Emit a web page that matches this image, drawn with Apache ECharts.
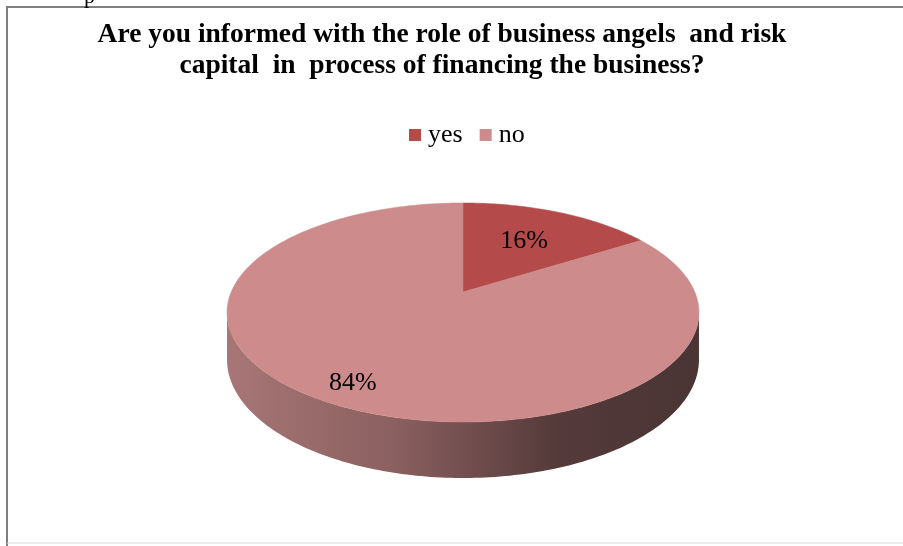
<!DOCTYPE html>
<html>
<head>
<meta charset="utf-8">
<script src="https://cdn.jsdelivr.net/npm/echarts@6/dist/echarts.min.js"></script>
<style>
html,body{margin:0;padding:0;background:#fff;}
#c{width:903px;height:546px;}
</style>
</head>
<body>
<div id="c"></div>
<script>
// ---- data ----
const titleLines = ['Are you informed with the role of business angels  and risk', 'capital  in  process of financing the business?'];
const categories = ['yes', 'no'];
const values = [16, 84];

// ---- style ----
const sliceColors = ['#b54a4b', '#cd8b8b'];
const labelRadius = [0.6, 0.85];

// 3D pie projection (perspective of a flat disc)
const CX = 463, CY = 292, A = 231.8, B = 105.7, K = 0.187, DEPTH = 45.5;
function proj(theta, r, drop) {
  const u = r * Math.sin(theta), v = r * Math.cos(theta);
  const w = 1 + K * v;
  return [CX + A * u / w, CY - B * v / w + (drop || 0) / w];
}
const total = values.reduce((a, b) => a + b, 0);
function arcPoints(t0, t1, drop) {
  const pts = [];
  const n = Math.max(2, Math.ceil((t1 - t0) / (Math.PI / 180)));
  for (let i = 0; i <= n; i++) pts.push(proj(t0 + (t1 - t0) * i / n, 1, drop));
  return pts;
}
const wallStart = Math.acos(-K), wallEnd = 2 * Math.PI - Math.acos(-K);

function makeRender(idx) {
  return function (params, api) {
    const v = api.value(0);
    let before = 0;
    for (let i = 0; i < idx; i++) before += values[i];
    const t0 = before / total * 2 * Math.PI;
    const t1 = (before + v) / total * 2 * Math.PI;
    const children = [];
    const a0 = Math.max(t0, wallStart), a1 = Math.min(t1, wallEnd);
    if (a1 > a0) {
      const top = arcPoints(a0, a1, 0);
      const bot = arcPoints(a0, a1, DEPTH).reverse();
      children.push({
        type: 'polygon',
        shape: { points: top.concat(bot) },
        style: {
          fill: {
            type: 'linear', x: 0, y: 0, x2: 1, y2: 0,
            colorStops: [
              { offset: 0, color: '#a87676' },
              { offset: 0.35, color: '#8b6060' },
              { offset: 0.7, color: '#553a3a' },
              { offset: 1, color: '#4a3434' }
            ]
          },
          stroke: null
        }
      });
    }
    const face = [proj(0, 0, 0)].concat(arcPoints(t0, t1, 0));
    children.push({
      type: 'polygon',
      shape: { points: face },
      style: { fill: sliceColors[idx], stroke: sliceColors[idx], lineWidth: 0.5 }
    });
    const mid = (t0 + t1) / 2;
    const lp = proj(mid, labelRadius[idx], 0);
    children.push({
      type: 'text',
      z2: 10,
      style: {
        text: Math.round(v / total * 100) + '%',
        x: lp[0], y: lp[1],
        fill: '#000',
        font: '26px "Liberation Serif"',
        align: 'center', verticalAlign: 'middle'
      }
    });
    return { type: 'group', children: children };
  };
}

const chart = echarts.init(document.getElementById('c'), null, { renderer: 'canvas' });
const series = categories.map((name, i) => ({
  type: 'custom',
  name: name,
  coordinateSystem: 'none',
  itemStyle: { color: sliceColors[i] },
  data: [[values[i]]],
  renderItem: makeRender(i),
  animation: false
}));

chart.setOption({
  backgroundColor: '#ffffff',
  animation: false,
  title: {
    text: titleLines.join('\n'),
    left: 437,
    textAlign: 'center',
    top: 14,
    textStyle: {
      fontFamily: '"Liberation Serif"',
      fontWeight: 'bold',
      fontSize: 27.5,
      lineHeight: 31,
      color: '#000'
    }
  },
  legend: {
    data: categories,
    left: 404,
    top: 117,
    icon: 'rect',
    itemWidth: 12,
    itemHeight: 12,
    itemGap: 17,
    textStyle: { fontFamily: '"Liberation Serif"', fontSize: 26, color: '#000', padding: [0, 0, 0, 2] }
  },
  graphic: [
    {
      type: 'polyline',
      shape: { points: [[7, 546], [7, 7], [903, 7]] },
      style: { stroke: '#7f7f7f', lineWidth: 2, fill: null }
    },
    {
      type: 'line',
      shape: { x1: 7, y1: 543, x2: 903, y2: 543 },
      style: { stroke: '#d9d9d9', lineWidth: 1 }
    },
    {
      type: 'text',
      left: 84, top: -14,
      style: { text: 'p', font: '22px "Liberation Serif"', fill: '#000' }
    }
  ],
  series: series
});
</script>
</body>
</html>
